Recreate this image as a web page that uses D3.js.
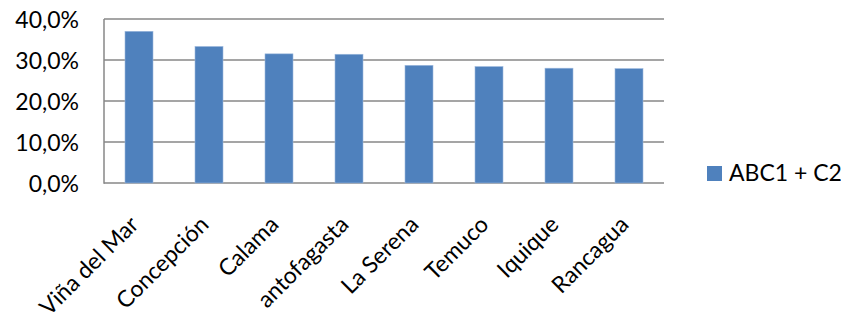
<!DOCTYPE html>
<html><head><meta charset="utf-8">
<script src="https://cdn.jsdelivr.net/npm/d3@7"></script>
<style>body{margin:0;background:#fff}text{font-family:Lato,"Open Sans",sans-serif;fill:#000}</style>
</head><body>
<svg id="c" width="841" height="322"></svg>
<script>
const categories = ["Viña del Mar","Concepción","Calama","antofagasta","La Serena","Temuco","Iquique","Rancagua"];
const values = [0.370,0.333,0.315,0.314,0.287,0.284,0.280,0.279];
const yTicks = [0,0.1,0.2,0.3,0.4];
const seriesName = "ABC1 + C2";

const svg = d3.select("#c");
const L=104,R=664,T=19,B=183;
const FS=23;
const x = d3.scaleBand().domain(categories).range([L,R]).paddingInner(0.6).paddingOuter(0.3);
const y = d3.scaleLinear().domain([0,0.4]).range([B,T]);
const fmt = d => d3.format(".1f")(d*100).replace(".",",")+"%";

// grid
svg.append("g").selectAll("line").data(yTicks).join("line")
  .attr("x1",L).attr("x2",R).attr("y1",d=>y(d)).attr("y2",d=>y(d))
  .attr("stroke","#878787").attr("stroke-width",1.5);
// y axis line
svg.append("line").attr("x1",L).attr("x2",L).attr("y1",T).attr("y2",B+0.75).attr("stroke","#878787").attr("stroke-width",1.5);
// y labels
svg.append("g").selectAll("text").data(yTicks).join("text")
  .attr("x",79).attr("y",d=>y(d)+8.5).attr("text-anchor","end").attr("font-size",FS).text(fmt);
// bars
svg.append("g").selectAll("rect").data(values).join("rect")
  .attr("x",(d,i)=>x(categories[i])).attr("width",x.bandwidth())
  .attr("y",d=>y(d)).attr("height",d=>B-y(d))
  .attr("fill","#4F81BD").attr("stroke","#9DB9DE").attr("stroke-width",0.6);
// x labels
svg.append("g").selectAll("text").data(categories).join("text")
  .attr("text-anchor","end").attr("font-size",FS)
  .attr("transform",d=>`translate(${x(d)+x.bandwidth()/2+1},${226}) rotate(-45)`)
  .text(d=>d);
// legend
svg.append("rect").attr("x",707).attr("y",166).attr("width",15).attr("height",15).attr("fill","#4F81BD");
svg.append("text").attr("x",729).attr("y",181).attr("font-size",FS).text(seriesName);
</script>
</body></html>
